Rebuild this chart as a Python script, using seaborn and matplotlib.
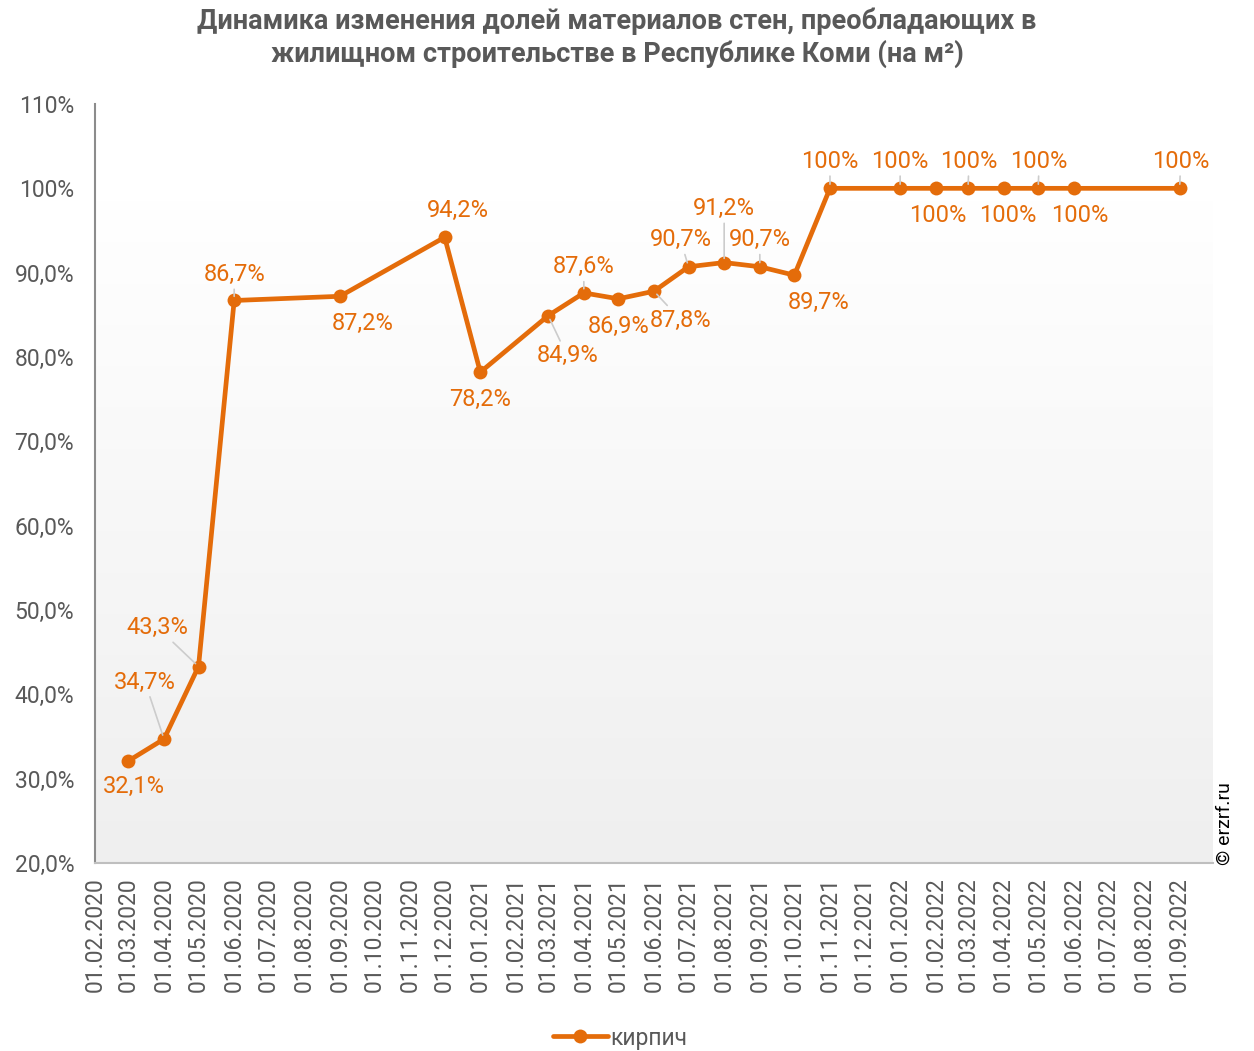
import numpy as np
import pandas as pd
import matplotlib
matplotlib.use("Agg")
import matplotlib.pyplot as plt
import matplotlib.dates as mdates
import seaborn as sns

# ---- data ----
dates = ["01.03.2020", "01.04.2020", "01.05.2020", "01.06.2020", "01.09.2020",
         "01.12.2020", "01.01.2021", "01.03.2021", "01.04.2021", "01.05.2021",
         "01.06.2021", "01.07.2021", "01.08.2021", "01.09.2021", "01.10.2021",
         "01.11.2021", "01.01.2022", "01.02.2022", "01.03.2022", "01.04.2022",
         "01.05.2022", "01.06.2022", "01.09.2022"]
values = [32.1, 34.7, 43.3, 86.7, 87.2, 94.2, 78.2, 84.9, 87.6, 86.9,
          87.8, 90.7, 91.2, 90.7, 89.7, 100, 100, 100, 100, 100, 100, 100, 100]
series_name = "кирпич"
title = ("Динамика изменения долей материалов стен, преобладающих в\n"
         "жилищном строительстве в Республике Коми (на м²)")
y_ticks = [20, 30, 40, 50, 60, 70, 80, 90, 100, 110]

# label offsets in pixels (dx, dy; dy positive = down) and leader flags
label_offsets = [(6, 26), (-19, -57), (-41, -39), (0, -26), (23, 27),
                 (13, -27), (0, 27), (19, 40), (0, -26), (0, 28),
                 (27, 29), (-8, -27), (0, -54), (0, -27), (24, 27),
                 (0, -27), (0, -27), (2, 27), (1, -27), (4, 27),
                 (1, -27), (6, 27), (1, -27)]
has_leader = [False, True, True, True, False,
              False, False, True, True, False,
              True, True, True, True, False,
              True, True, False, True, False,
              True, False, True]

def fmt_val(v):
    if v >= 100:
        return "100%"
    return f"{v:.1f}".replace(".", ",") + "%"

def fmt_tick(v):
    if v >= 100:
        return f"{v:.0f}%"
    return f"{v:.1f}".replace(".", ",") + "%"

sns.set_style("white")
plt.rcParams["font.family"] = ["Roboto", "DejaVu Sans"]

ORANGE = "#E46C0A"
GRAY_TXT = "#595959"

df = pd.DataFrame({"date": pd.to_datetime(dates, format="%d.%m.%Y"), "value": values})

fig = plt.figure(figsize=(12.54, 10.51), dpi=100)
ax = fig.add_axes([95/1254, 1 - 863/1051, (1213-95)/1254, (863-104)/1051])

# gradient background
grad = np.linspace(1.0, 0.0, 256).reshape(-1, 1)
cmap = matplotlib.colors.LinearSegmentedColormap.from_list("g", ["#efefef", "#ffffff"])
ax.imshow(grad, extent=[0, 1, 0, (863-200)/(863-104)], transform=ax.transAxes,
          aspect="auto", cmap=cmap, vmin=0, vmax=1, zorder=0)

sns.lineplot(data=df, x="date", y="value", ax=ax, color=ORANGE, linewidth=3.4,
             marker="o", markersize=10, markeredgewidth=0, label=series_name, zorder=3)

ax.set_xlim(pd.Timestamp("2020-02-01"), pd.Timestamp("2022-09-30"))
ax.set_ylim(20, 110)
ax.set_yticks(y_ticks)
ax.set_yticklabels([fmt_tick(v) for v in y_ticks])
ax.xaxis.set_major_locator(mdates.MonthLocator())
ax.xaxis.set_major_formatter(mdates.DateFormatter("%d.%m.%Y"))
ax.set_xlabel("")
ax.set_ylabel("")

for s in ["top", "right"]:
    ax.spines[s].set_visible(False)
ax.spines["left"].set_color("#8c8c8c")
ax.spines["bottom"].set_color("#bfbfbf")
ax.spines["left"].set_linewidth(1.5)
ax.spines["bottom"].set_linewidth(1.5)
ax.tick_params(axis="y", direction="out", length=6, width=1.5, color="#8c8c8c",
               labelsize=16.5, labelcolor=GRAY_TXT, pad=9)
ax.tick_params(axis="x", direction="out", length=6, width=1.5, color="#bfbfbf",
               labelsize=16.5, labelcolor=GRAY_TXT, pad=4, labelrotation=90)

leader = dict(arrowstyle="-", color="#cccccc", lw=1.2, shrinkA=0, shrinkB=3)
for d, v, (dx, dy), lead in zip(df["date"], values, label_offsets, has_leader):
    ax.annotate(fmt_val(v), xy=(d, v), xytext=(dx * 0.72, -dy * 0.72),
                textcoords="offset points", ha="center", va="center",
                fontsize=17, color=ORANGE,
                arrowprops=leader if lead else None, zorder=4)

fig.text(617/1254, 1 - 38/1051, title, ha="center", va="center", fontsize=19.5,
         fontweight="bold", color=GRAY_TXT, linespacing=1.2)

leg = ax.legend(loc="center", bbox_to_anchor=(620/1254, 1 - 1038/1051),
                bbox_transform=fig.transFigure, frameon=False, fontsize=16.5,
                handlelength=2.4, handletextpad=0.1)
for t in leg.get_texts():
    t.set_color(GRAY_TXT)

fig.text(1225/1254, 1 - 865/1051, "© erzrf.ru", rotation=90, ha="center",
         va="bottom", fontsize=14, color="black")

fig.savefig("out.png", dpi=100)
